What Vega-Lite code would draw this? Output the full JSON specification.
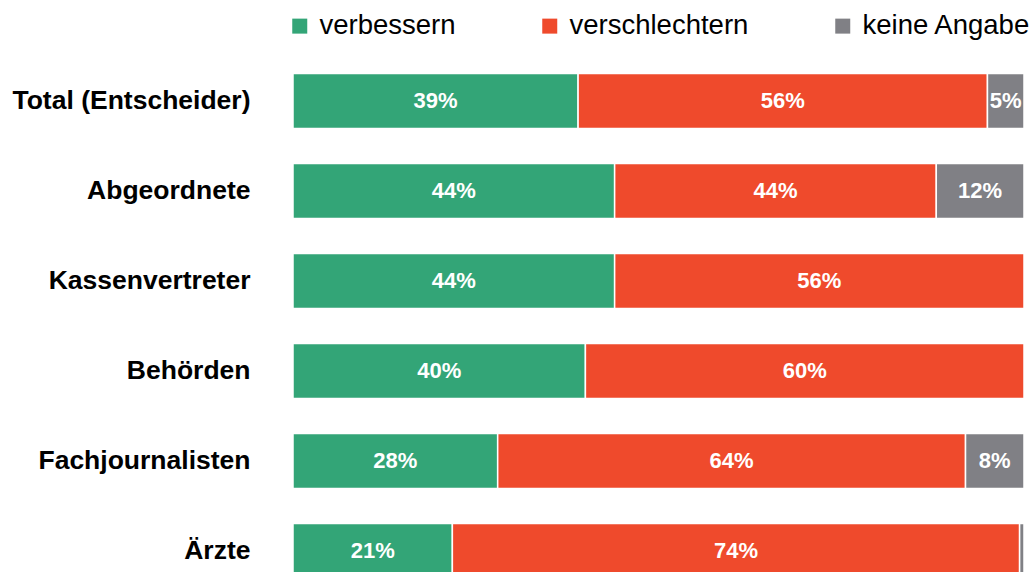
{
  "$schema": "https://vega.github.io/schema/vega-lite/v6.json",
  "autosize": "none",
  "width": 731,
  "height": 540,
  "padding": {"left": 293, "top": 56, "right": 5, "bottom": 0},
  "config": {"view": {"stroke": null}, "font": "Liberation Sans"},
  "data": {"values": [
    {"gruppe": "Total (Entscheider)", "antwort": "verbessern", "k": 1, "wert": 39, "label": "39%"},
    {"gruppe": "Total (Entscheider)", "antwort": "verschlechtern", "k": 2, "wert": 56, "label": "56%"},
    {"gruppe": "Total (Entscheider)", "antwort": "keine Angabe", "k": 3, "wert": 5, "label": "5%"},
    {"gruppe": "Abgeordnete", "antwort": "verbessern", "k": 1, "wert": 44, "label": "44%"},
    {"gruppe": "Abgeordnete", "antwort": "verschlechtern", "k": 2, "wert": 44, "label": "44%"},
    {"gruppe": "Abgeordnete", "antwort": "keine Angabe", "k": 3, "wert": 12, "label": "12%"},
    {"gruppe": "Kassenvertreter", "antwort": "verbessern", "k": 1, "wert": 44, "label": "44%"},
    {"gruppe": "Kassenvertreter", "antwort": "verschlechtern", "k": 2, "wert": 56, "label": "56%"},
    {"gruppe": "Behörden", "antwort": "verbessern", "k": 1, "wert": 40, "label": "40%"},
    {"gruppe": "Behörden", "antwort": "verschlechtern", "k": 2, "wert": 60, "label": "60%"},
    {"gruppe": "Fachjournalisten", "antwort": "verbessern", "k": 1, "wert": 28, "label": "28%"},
    {"gruppe": "Fachjournalisten", "antwort": "verschlechtern", "k": 2, "wert": 64, "label": "64%"},
    {"gruppe": "Fachjournalisten", "antwort": "keine Angabe", "k": 3, "wert": 8, "label": "8%"},
    {"gruppe": "Ärzte", "antwort": "verbessern", "k": 1, "wert": 21.8, "label": "21%"},
    {"gruppe": "Ärzte", "antwort": "verschlechtern", "k": 2, "wert": 77.6, "label": "74%"},
    {"gruppe": "Ärzte", "antwort": "keine Angabe", "k": 3, "wert": 0.6, "label": ""}
  ]},
  "transform": [
    {"stack": "wert", "groupby": ["gruppe"], "sort": [{"field": "k", "order": "ascending"}], "as": ["x0", "x1"]},
    {"calculate": "(datum.x0 + datum.x1) / 2", "as": "xmid"}
  ],
  "encoding": {
    "y": {
      "field": "gruppe", "type": "nominal",
      "sort": ["Total (Entscheider)", "Abgeordnete", "Kassenvertreter", "Behörden", "Fachjournalisten", "Ärzte"],
      "scale": {"paddingInner": 0.39, "paddingOuter": 0.195},
      "axis": {"title": null, "domain": false, "ticks": false, "labelFontSize": 26.5, "labelFontWeight": "bold", "labelColor": "#000000", "labelPadding": 43, "labelLimit": 400, "labelFont": "Liberation Sans"}
    }
  },
  "layer": [
    {
      "mark": {"type": "bar", "stroke": "#ffffff", "strokeWidth": 1.5},
      "encoding": {
        "x": {"field": "x0", "type": "quantitative", "scale": {"domain": [0, 100], "nice": false}, "axis": null},
        "x2": {"field": "x1"},
        "color": {
          "field": "antwort", "type": "nominal",
          "scale": {"domain": ["verbessern", "verschlechtern", "keine Angabe"], "range": ["#33a577", "#ef4a2c", "#808085"]},
          "legend": {
            "title": null, "orient": "none", "direction": "horizontal",
            "legendX": -7, "legendY": -44, "padding": 0,
            "symbolType": "square", "symbolSize": 225, "symbolStrokeWidth": 0,
            "labelFontSize": 27.5, "labelFont": "Liberation Sans", "labelColor": "#000000",
            "labelOffset": 6, "labelLimit": 400, "columnPadding": 80
          }
        }
      }
    },
    {
      "mark": {"type": "text", "color": "#ffffff", "fontSize": 22, "fontWeight": "bold", "font": "Liberation Sans", "baseline": "middle", "align": "center"},
      "encoding": {
        "x": {"field": "xmid", "type": "quantitative"},
        "text": {"field": "label"}
      }
    }
  ]
}
